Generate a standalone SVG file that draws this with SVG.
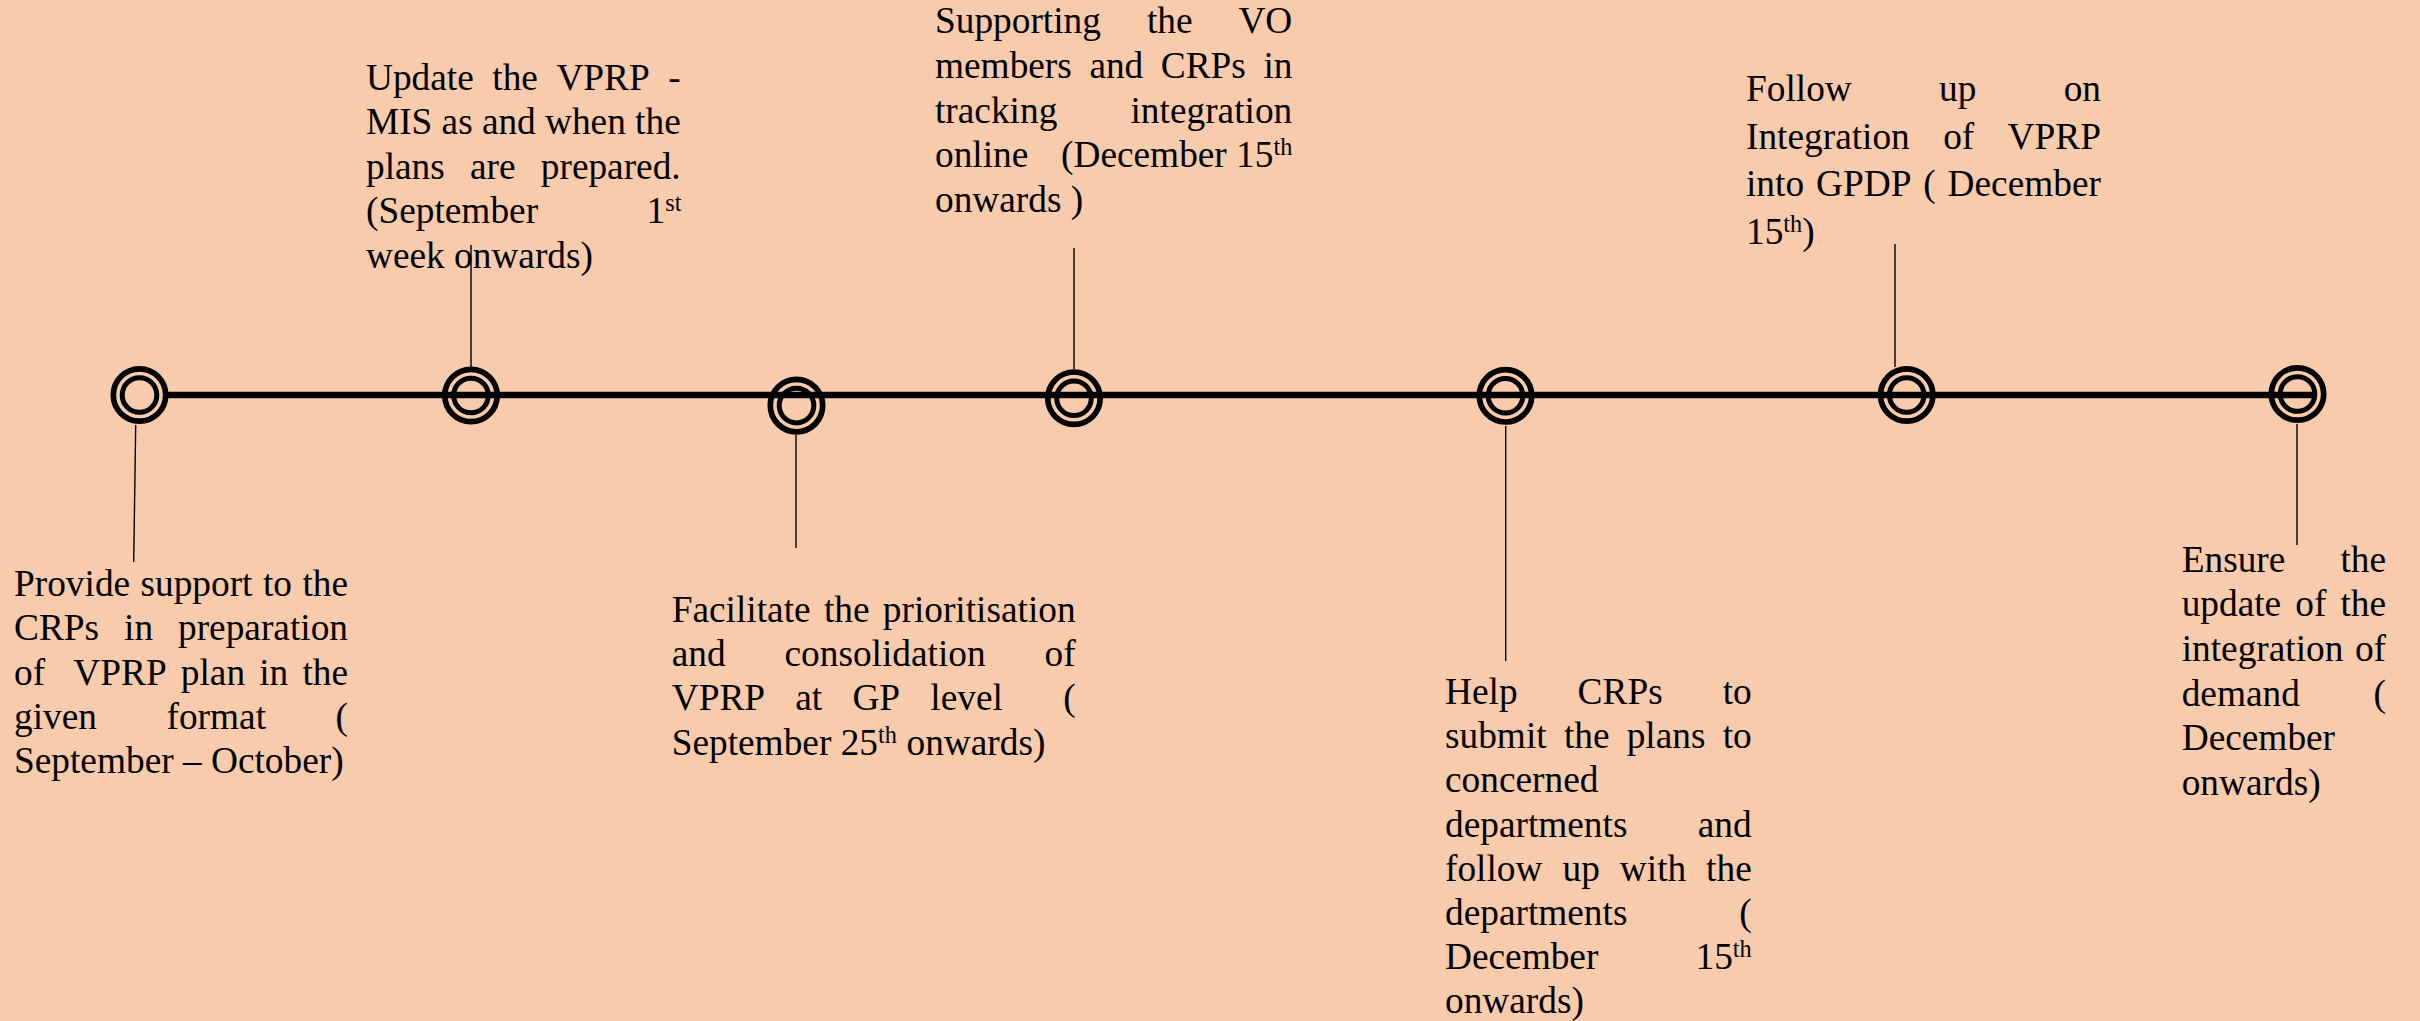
<svg xmlns="http://www.w3.org/2000/svg" xmlns:xlink="http://www.w3.org/1999/xlink" width="2420" height="1021" viewBox="0 0 2420 1021">
  <style>
    .t { font-family: "Liberation Serif", "Times New Roman", serif; font-size: 37.33px; fill: #000; }
    .sup { font-size: 24.3px; }
    .axis { stroke: #000; stroke-width: 6.5; fill: none; }
    .lead { stroke: #000; stroke-width: 1.4; fill: none; }
    .ring-o { fill: none; stroke: #000; stroke-width: 5.7; }
    .ring-i { fill: none; stroke: #000; stroke-width: 5; }
  </style>
  <defs>
    <!-- double-ring milestone marker, centred on the origin -->
    <g id="ring">
      <circle class="ring-o" r="26.2"/>
      <circle class="ring-i" r="17.3"/>
    </g>
  </defs>

  <rect width="2420" height="1021" fill="#F8CBAD"/>

  <!-- timeline axis and leader lines -->
  <g id="connectors">
    <line class="axis" x1="168" y1="395" x2="2316" y2="395"/>
    <line class="lead" x1="135.7" y1="425" x2="133.7" y2="562"/>
    <line class="lead" x1="471" y1="245" x2="471" y2="367"/>
    <line class="lead" x1="796" y1="435" x2="796" y2="548"/>
    <line class="lead" x1="1074" y1="248" x2="1074" y2="369"/>
    <line class="lead" x1="1505.7" y1="426" x2="1505.7" y2="661"/>
    <line class="lead" x1="1895" y1="244" x2="1895" y2="367"/>
    <line class="lead" x1="2297" y1="424" x2="2297" y2="545"/>
  </g>

  <!-- 1: September – October -->
  <g id="step1">
    <use xlink:href="#ring" x="139.5" y="395"/>
    <text class="t" y="595.7"><tspan x="14">Provide</tspan><tspan x="140.5">support</tspan><tspan x="262.9">to</tspan><tspan x="302.4">the</tspan></text>
    <text class="t" y="640.1"><tspan x="14">CRPs</tspan><tspan x="124.1">in</tspan><tspan x="178">preparation</tspan></text>
    <text class="t" y="684.5"><tspan x="14">of</tspan><tspan x="73.3">VPRP</tspan><tspan x="180.8">plan</tspan><tspan x="259.2">in</tspan><tspan x="302.4">the</tspan></text>
    <text class="t" y="728.9"><tspan x="14">given</tspan><tspan x="166.5">format</tspan><tspan x="335.6">(</tspan></text>
    <text class="t" x="14" y="773.3">September – October)</text>
  </g>

  <!-- 2: September 1st week onwards -->
  <g id="step2">
    <use xlink:href="#ring" x="471" y="395.5"/>
    <text class="t" y="90"><tspan x="366">Update</tspan><tspan x="492.3">the</tspan><tspan x="556.4">VPRP</tspan><tspan x="668.3">-</tspan></text>
    <text class="t" y="134.4"><tspan x="366">MIS</tspan><tspan x="441.6">as</tspan><tspan x="481.9">and</tspan><tspan x="545">when</tspan><tspan x="635.1">the</tspan></text>
    <text class="t" y="178.8"><tspan x="366">plans</tspan><tspan x="470">are</tspan><tspan x="540.8">prepared.</tspan></text>
    <text class="t" y="223.2"><tspan x="366">(September</tspan><tspan x="646.5">1</tspan><tspan class="sup" x="665.2" y="211.2">st</tspan></text>
    <text class="t" x="366" y="267.6">week onwards)</text>
  </g>

  <!-- 3: September 25th onwards -->
  <g id="step3">
    <use xlink:href="#ring" x="796.5" y="405.6"/>
    <text class="t" y="621.5"><tspan x="671.7">Facilitate</tspan><tspan x="823.9">the</tspan><tspan x="882.8">prioritisation</tspan></text>
    <text class="t" y="665.9"><tspan x="671.7">and</tspan><tspan x="784.5">consolidation</tspan><tspan x="1044.6">of</tspan></text>
    <text class="t" y="710.3"><tspan x="671.7">VPRP</tspan><tspan x="795.3">at</tspan><tspan x="852.4">GP</tspan><tspan x="930.3">level</tspan><tspan x="1063.3">(</tspan></text>
    <text class="t" y="754.7"><tspan x="671.7">September</tspan><tspan x="840.7">25</tspan><tspan class="sup" x="878" y="742.7">th</tspan><tspan x="906.5" y="754.7">onwards)</tspan></text>
  </g>

  <!-- 4: December 15th onwards -->
  <g id="step4">
    <use xlink:href="#ring" x="1074" y="398.2"/>
    <text class="t" y="33.3"><tspan x="935">Supporting</tspan><tspan x="1146.9">the</tspan><tspan x="1238.4">VO</tspan></text>
    <text class="t" y="77.9"><tspan x="935">members</tspan><tspan x="1089.4">and</tspan><tspan x="1160.8">CRPs</tspan><tspan x="1263.4">in</tspan></text>
    <text class="t" y="122.5"><tspan x="935">tracking</tspan><tspan x="1130.5">integration</tspan></text>
    <text class="t" y="167.1"><tspan x="935">online</tspan><tspan x="1061">(December</tspan><tspan x="1236.1">15</tspan><tspan class="sup" x="1273.4" y="155.1">th</tspan></text>
    <text class="t" x="935" y="211.7">onwards )</text>
  </g>

  <!-- 5: December 15th onwards -->
  <g id="step5">
    <use xlink:href="#ring" x="1505.5" y="395.8"/>
    <text class="t" y="704"><tspan x="1445">Help</tspan><tspan x="1577.6">CRPs</tspan><tspan x="1722.7">to</tspan></text>
    <text class="t" y="748.2"><tspan x="1445">submit</tspan><tspan x="1563.9">the</tspan><tspan x="1626.7">plans</tspan><tspan x="1722.7">to</tspan></text>
    <text class="t" x="1445" y="792.4">concerned</text>
    <text class="t" y="836.6"><tspan x="1445">departments</tspan><tspan x="1697.8">and</tspan></text>
    <text class="t" y="880.8"><tspan x="1445">follow</tspan><tspan x="1562.5">up</tspan><tspan x="1619.8">with</tspan><tspan x="1706.1">the</tspan></text>
    <text class="t" y="925"><tspan x="1445">departments</tspan><tspan x="1739.3">(</tspan></text>
    <text class="t" y="969.2"><tspan x="1445">December</tspan><tspan x="1695.5">15</tspan><tspan class="sup" x="1732.8" y="957.2">th</tspan></text>
    <text class="t" x="1445" y="1013.4">onwards)</text>
  </g>

  <!-- 6: December 15th -->
  <g id="step6">
    <use xlink:href="#ring" x="1906.7" y="395"/>
    <text class="t" y="101"><tspan x="1746">Follow</tspan><tspan x="1939.1">up</tspan><tspan x="2063.7">on</tspan></text>
    <text class="t" y="148.5"><tspan x="1746">Integration</tspan><tspan x="1943.2">of</tspan><tspan x="2007.6">VPRP</tspan></text>
    <text class="t" y="196"><tspan x="1746">into</tspan><tspan x="1816">GPDP</tspan><tspan x="1923.3">(</tspan><tspan x="1947.6">December</tspan></text>
    <text class="t" y="243.5"><tspan x="1746">15</tspan><tspan class="sup" x="1783.3" y="231.5">th</tspan><tspan x="1802.2" y="243.5">)</tspan></text>
  </g>

  <!-- 7: December onwards -->
  <g id="step7">
    <use xlink:href="#ring" x="2297.5" y="394"/>
    <text class="t" y="571.7"><tspan x="2181.7">Ensure</tspan><tspan x="2340.4">the</tspan></text>
    <text class="t" y="616.4"><tspan x="2181.7">update</tspan><tspan x="2295.3">of</tspan><tspan x="2340.4">the</tspan></text>
    <text class="t" y="661"><tspan x="2181.7">integration</tspan><tspan x="2354.9">of</tspan></text>
    <text class="t" y="705.7"><tspan x="2181.7">demand</tspan><tspan x="2373.6">(</tspan></text>
    <text class="t" x="2181.7" y="750.3">December</text>
    <text class="t" x="2181.7" y="795">onwards)</text>
  </g>
</svg>
